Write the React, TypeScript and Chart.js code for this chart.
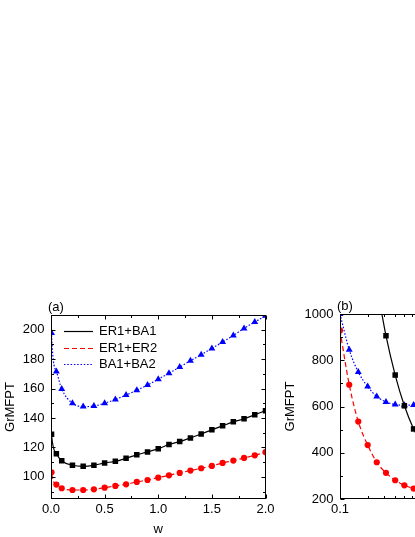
import React, { useEffect, useRef } from 'react';
import { Chart, registerables } from 'chart.js';

Chart.register(...registerables);

const FONT = '"Liberation Sans", Arial, Helvetica, sans-serif';

// ---- series meta ----
const seriesNames = ['ER1+BA1', 'ER1+ER2', 'BA1+BA2'];
const seriesColors = ['#000000', '#ff0000', '#0000ff'];
const seriesMarkers = ['rect', 'circle', 'triangle'];

// ---- panel (a): GrMFPT vs w ----
const wA = [0.005, 0.05, 0.1, 0.2, 0.3, 0.4, 0.5, 0.6, 0.7, 0.8, 0.9, 1.0, 1.1, 1.2, 1.3, 1.4, 1.5, 1.6, 1.7, 1.8, 1.9, 2.0];
const er1ba1A = [129, 115.8, 111, 107.9, 107.2, 107.9, 109.5, 110.6, 112.7, 115, 117, 119.2, 122, 124, 126.5, 129.2, 132, 134.7, 137.4, 139.5, 142.2, 145];
const er1er2A = [103.1, 94.8, 92.3, 91.1, 91.1, 91.6, 92.7, 93.9, 95, 96.6, 97.9, 99.5, 101.1, 102.7, 104.3, 105.9, 107.5, 109.5, 111.1, 112.9, 114.7, 116.8];
const ba1ba2A = [197.7, 171.7, 159.7, 150.1, 147.8, 148.1, 150.1, 152.6, 155.6, 158.9, 162.4, 166.4, 170.5, 174.6, 178.9, 183, 187.3, 191.6, 196.1, 200.9, 205.2, 209.5];
// where the fitted curves start at w = 0
const curveStartW = 0;
const curveStartA = [140, 113, 230];

const xMajorA = [0, 0.5, 1.0, 1.5, 2.0];
const xMinorA = [0.25, 0.75, 1.25, 1.75];
const yMajorA = [100, 120, 140, 160, 180, 200];
const yMinorA = [90, 110, 130, 150, 170, 190, 210];

// ---- panel (b): GrMFPT vs w (log) ----
const wB = [0.1, 0.126, 0.158, 0.2, 0.251, 0.316, 0.398, 0.501, 0.631, 0.794];
const er1er2B = [929, 694, 535, 433, 359, 313, 281, 259, 245, 236];
const ba1ba2B = [1000, 845, 749, 686, 643, 620, 609, 605, 607, 605];
const wBlackB = [0.316, 0.398, 0.501, 0.631, 0.794];
const er1ba1B = [906, 736, 603, 503, 430];
const curveStartBlackB = { w: 0.251, v: 1126 };

const xMajorB = [0.1, 1, 10];
const xMinorB = [0.2, 0.3, 0.4, 0.5, 0.6, 0.7, 0.8, 0.9, 2, 3, 4, 5, 6, 7, 8, 9];
const yMajorB = [200, 400, 600, 800, 1000];
const yMinorB = [300, 500, 700, 900];

const pts = (xs: number[], ys: number[]) => xs.map((x, i) => ({ x, y: ys[i] }));

const dashFor = (i: number) => (i === 1 ? [5, 3] : i === 2 ? [1.5, 1.8] : []);
const markerRadius = [3.9, 3.1, 4.0];

function makeSeries(idx: number, linePts: { x: number; y: number }[], markerPts: { x: number; y: number }[]) {
  const c = seriesColors[idx];
  return [
    {
      label: seriesNames[idx] + ' markers',
      data: markerPts,
      showLine: false,
      pointStyle: seriesMarkers[idx],
      pointRadius: markerRadius[idx],
      pointBackgroundColor: c,
      pointBorderColor: c,
      pointBorderWidth: 0,
      order: idx,
    },
    {
      label: seriesNames[idx],
      data: linePts,
      showLine: true,
      borderColor: c,
      borderWidth: 1.2,
      borderDash: dashFor(idx),
      pointRadius: 0,
      cubicInterpolationMode: 'monotone',
      order: idx,
    },
  ];
}

const frameTicks = {
  id: 'frameTicks',
  afterDatasetsDraw(chart: any, _args: any, opts: any) {
    const { ctx, chartArea: a, scales } = chart;
    const xs = scales.x;
    const ys = scales.y;
    const L = Math.round(a.left) + 0.5;
    const R = Math.round(a.right) - 0.5;
    const T = Math.round(a.top) + 0.5;
    const B = Math.round(a.bottom) - 0.5;
    ctx.save();
    ctx.strokeStyle = '#000';
    ctx.lineWidth = 1;
    ctx.setLineDash([]);
    ctx.strokeRect(L, T, R - L, B - T);
    const tick = (vals: number[], len: number, horiz: boolean) => {
      for (const v of vals) {
        if (horiz) {
          const p = Math.round(xs.getPixelForValue(v)) + 0.5;
          if (p < L - 1 || p > R + 1) continue;
          ctx.beginPath();
          ctx.moveTo(p, B); ctx.lineTo(p, B - len);
          ctx.moveTo(p, T); ctx.lineTo(p, T + len);
          ctx.stroke();
        } else {
          const p = Math.round(ys.getPixelForValue(v)) + 0.5;
          if (p < T - 1 || p > B + 1) continue;
          ctx.beginPath();
          ctx.moveTo(L, p); ctx.lineTo(L + len, p);
          ctx.moveTo(R, p); ctx.lineTo(R - len, p);
          ctx.stroke();
        }
      }
    };
    tick(opts.xMajor, 4, true);
    tick(opts.xMinor, 2.5, true);
    tick(opts.yMajor, 4, false);
    tick(opts.yMinor, 2.5, false);
    // panel label
    ctx.fillStyle = '#000';
    ctx.font = `13px ${FONT}`;
    ctx.textAlign = 'left';
    ctx.textBaseline = 'middle';
    ctx.fillText(opts.label, a.left - 3, a.top - 8);
    // legend
    if (opts.legend) {
      const rowY = [a.top + 16, a.top + 32.5, a.top + 49];
      seriesNames.forEach((name, i) => {
        const y = Math.round(rowY[i]) + 0.5;
        ctx.strokeStyle = seriesColors[i];
        ctx.lineWidth = 1.2;
        ctx.setLineDash(dashFor(i));
        ctx.beginPath();
        ctx.moveTo(a.left + 13, y);
        ctx.lineTo(a.left + 42, y);
        ctx.stroke();
        ctx.setLineDash([]);
        ctx.fillStyle = '#000';
        ctx.fillText(name, a.left + 48, y);
      });
    }
    ctx.restore();
  },
};

function baseScale(extra: any) {
  return {
    grid: { display: false, drawTicks: false, tickLength: 0 },
    border: { display: false },
    ...extra,
  };
}

function buildConfig(panel: 'a' | 'b'): any {
  const tickFont = { family: FONT, size: 13 };
  let datasets: any[] = [];
  let xScale: any;
  let yScale: any;
  let padding: any;
  let plugOpts: any;
  if (panel === 'a') {
    const vals = [er1ba1A, er1er2A, ba1ba2A];
    vals.forEach((v, i) => {
      datasets.push(
        ...makeSeries(i, [{ x: curveStartW, y: curveStartA[i] }, ...pts(wA, v)], pts(wA, v))
      );
    });
    xScale = baseScale({
      type: 'linear', min: 0, max: 2,
      afterBuildTicks: (s: any) => { s.ticks = xMajorA.map((v) => ({ value: v })); },
      afterFit: (s: any) => { s.height = 38; },
      ticks: { font: tickFont, color: '#000', padding: 3, maxRotation: 0, callback: (v: any) => Number(v).toFixed(1) },
      title: { display: true, text: 'w', font: tickFont, color: '#000', padding: { top: 0, bottom: 0 } },
    });
    yScale = baseScale({
      type: 'linear', min: 85, max: 210,
      afterBuildTicks: (s: any) => { s.ticks = yMajorA.map((v) => ({ value: v })); },
      afterFit: (s: any) => { s.width = 51; },
      ticks: { font: tickFont, color: '#000', padding: 6.5, callback: (v: any) => String(v) },
      title: { display: true, text: 'GrMFPT', font: tickFont, color: '#000', padding: { top: 2.2, bottom: 0 } },
    });
    padding = { top: 315, left: 0, right: 14.5, bottom: 0 };
    plugOpts = { xMajor: xMajorA, xMinor: xMinorA, yMajor: yMajorA, yMinor: yMinorA, label: '(a)', legend: true };
  } else {
    datasets.push(
      ...makeSeries(0, [{ x: curveStartBlackB.w, y: curveStartBlackB.v }, ...pts(wBlackB, er1ba1B)], pts(wBlackB, er1ba1B))
    );
    datasets.push(...makeSeries(1, pts(wB, er1er2B), pts(wB, er1er2B)));
    datasets.push(...makeSeries(2, pts(wB, ba1ba2B), pts(wB, ba1ba2B)));
    xScale = baseScale({
      type: 'logarithmic', min: 0.1, max: 10,
      afterBuildTicks: (s: any) => { s.ticks = xMajorB.map((v) => ({ value: v, major: true })); },
      afterFit: (s: any) => { s.height = 38; },
      ticks: { font: tickFont, color: '#000', padding: 3, maxRotation: 0, autoSkip: false, callback: (v: any) => String(v) },
      title: { display: true, text: 'w', font: tickFont, color: '#000', padding: { top: 0, bottom: 0 } },
    });
    yScale = baseScale({
      type: 'linear', min: 200, max: 1000,
      afterBuildTicks: (s: any) => { s.ticks = yMajorB.map((v) => ({ value: v })); },
      afterFit: (s: any) => { s.width = 65; },
      ticks: { font: tickFont, color: '#000', padding: 6.5, callback: (v: any) => String(v) },
      title: { display: true, text: 'GrMFPT', font: tickFont, color: '#000', padding: { top: 7.2, bottom: 0 } },
    });
    padding = { top: 314, left: 0, right: 51, bottom: 0 };
    plugOpts = { xMajor: xMajorB, xMinor: xMinorB, yMajor: yMajorB, yMinor: yMinorB, label: '(b)', legend: false };
  }
  return {
    type: 'scatter',
    data: { datasets },
    options: {
      responsive: false,
      animation: false,
      devicePixelRatio: 1,
      layout: { padding },
      scales: { x: xScale, y: yScale },
      plugins: {
        legend: { display: false },
        tooltip: { enabled: false },
        frameTicks: plugOpts,
      },
    },
    plugins: [frameTicks],
  };
}

function Panel({ panel, left, width }: { panel: 'a' | 'b'; left: number; width: number }) {
  const ref = useRef<HTMLCanvasElement | null>(null);
  useEffect(() => {
    if (!ref.current) return;
    const chart = new Chart(ref.current, buildConfig(panel));
    return () => chart.destroy();
  }, [panel]);
  return (
    <canvas
      ref={ref}
      width={width}
      height={537}
      style={{ position: 'absolute', left, top: 0, width, height: 537 }}
    />
  );
}

export default function App() {
  return (
    <div
      style={{
        position: 'fixed', left: 0, top: 0, width: 415, height: 537,
        overflow: 'hidden', background: '#fff',
      }}
    >
      <Panel panel="a" left={0} width={280} />
      <Panel panel="b" left={275} width={300} />
    </div>
  );
}
